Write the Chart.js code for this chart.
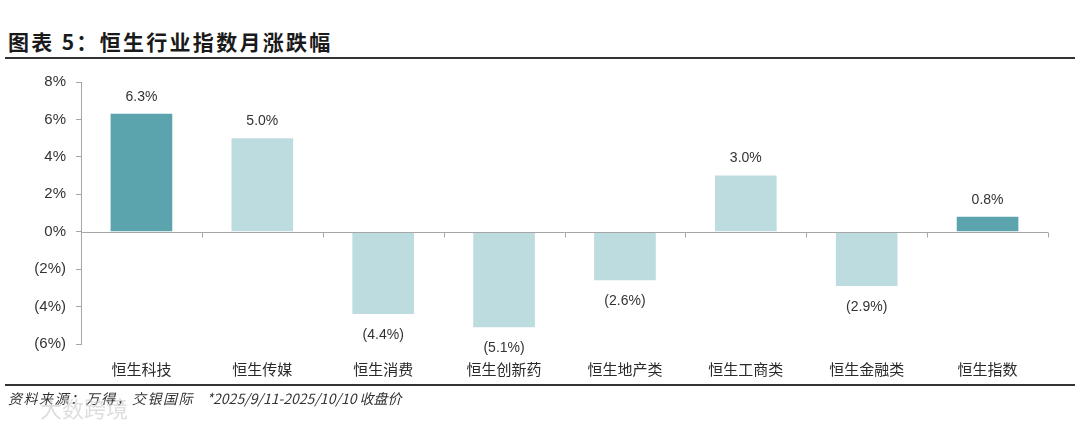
<!DOCTYPE html>
<html><head><meta charset="utf-8">
<script src="https://cdn.jsdelivr.net/npm/chart.js@4.4.0/dist/chart.umd.min.js"></script>
<style>
html,body{margin:0;padding:0;background:#fff;width:1080px;height:427px;overflow:hidden;position:relative;}
#title{position:absolute;left:8px;top:27px;font-family:"Noto Sans CJK SC";font-weight:bold;font-size:21px;color:#1a1a1a;line-height:28px;letter-spacing:2.3px;}
#tline{position:absolute;left:5px;width:1070px;top:57px;height:2px;background:#333;}
#fline{position:absolute;left:5px;width:1070px;top:384px;height:2px;background:#333;}
#foot{position:absolute;left:8px;top:389px;font-family:"Noto Sans CJK SC";font-style:italic;font-size:14px;color:#333;line-height:18px;white-space:pre;}
#foot span{letter-spacing:1.5px;}
#wm{position:absolute;left:40px;top:394px;font-family:"Noto Sans CJK SC";font-size:22px;color:rgba(200,200,200,0.6);line-height:26px;}
#c{position:absolute;left:0;top:0;}
</style></head><body>
<div id="title">图表 5：恒生行业指数月涨跌幅</div>
<div id="tline"></div>
<canvas id="c" width="1080" height="427"></canvas>
<div id="fline"></div>
<div id="foot"><span>资料来源：万得，交银国际</span>    *2025/9/11-2025/10/10 收盘价</div>
<div id="wm">大数跨境</div>
<script>
const categories = ["恒生科技","恒生传媒","恒生消费","恒生创新药","恒生地产类","恒生工商类","恒生金融类","恒生指数"];
const values = [6.3, 5.0, -4.4, -5.1, -2.6, 3.0, -2.9, 0.8];
const barColors = ["#5ba3ad","#bddce0","#bddce0","#bddce0","#bddce0","#bddce0","#bddce0","#5ba3ad"];
const yTicks = [-6,-4,-2,0,2,4,6,8];

const fmt = v => v < 0 ? "(" + Math.abs(v).toFixed(1) + "%)" : v.toFixed(1) + "%";
const fmtTick = v => v < 0 ? "(" + Math.abs(v) + "%)" : v + "%";

const zeroLine = {
  id:'zeroLine',
  afterDatasetsDraw(chart){
    const {ctx, chartArea, scales:{x,y}} = chart;
    const y0 = Math.round(y.getPixelForValue(0)) + 0.5;
    ctx.save();
    ctx.strokeStyle = '#a6a6a6';
    ctx.lineWidth = 1;
    ctx.beginPath();
    ctx.moveTo(chartArea.left, y0);
    ctx.lineTo(chartArea.right, y0);
    const n = categories.length;
    const step = (chartArea.right - chartArea.left) / n;
    for(let i=1;i<=n;i++){
      const xb = Math.round(x.getPixelForValue(i-1) + step/2) + 0.5;
      ctx.moveTo(xb, y0);
      ctx.lineTo(xb, y0 + 5);
    }
    ctx.stroke();
    ctx.fillStyle = '#333';
    ctx.font = '14px "Liberation Sans", "Open Sans", sans-serif';
    ctx.textAlign = 'center';
    const meta = chart.getDatasetMeta(0);
    meta.data.forEach((bar,i)=>{
      const v = values[i];
      if(v >= 0){
        ctx.textBaseline = 'bottom';
        ctx.fillText(fmt(v), bar.x, bar.y - 10);
      } else {
        ctx.textBaseline = 'top';
        ctx.fillText(fmt(v), bar.x, bar.y + 14);
      }
    });
    ctx.restore();
  }
};

new Chart(document.getElementById('c'), {
  type:'bar',
  data:{labels:categories, datasets:[{data:values, backgroundColor:barColors, borderWidth:0, categoryPercentage:1.0, barPercentage:0.51}]},
  options:{
    responsive:false, animation:false,
    layout:{padding:{left:0,right:32,top:82,bottom:43}},
    plugins:{legend:{display:false}, tooltip:{enabled:false}},
    scales:{
      x:{
        grid:{display:false},
        border:{display:false},
        ticks:{color:'#2a2a2a', font:{family:'"Noto Sans CJK SC"', size:15}, padding:8, maxRotation:0},
        afterFit(s){ s.height = 40; }
      },
      y:{
        min:-6, max:8,
        afterBuildTicks(s){ s.ticks = yTicks.map(v=>({value:v})); },
        grid:{drawOnChartArea:false, tickLength:5, color:'#a6a6a6'},
        border:{display:true, color:'#a6a6a6'},
        ticks:{color:'#333', font:{family:'"Liberation Sans", "Open Sans", sans-serif', size:15}, padding:10, callback:v=>fmtTick(v)},
        afterFit(s){ s.width = 81; }
      }
    }
  },
  plugins:[zeroLine]
});
</script>
</body></html>
